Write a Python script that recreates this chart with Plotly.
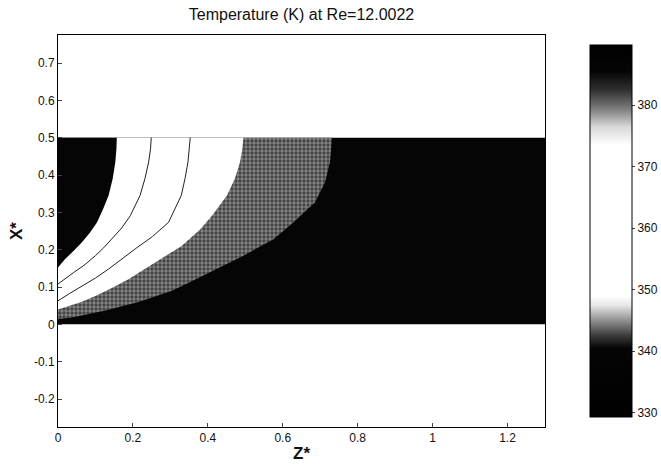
import plotly.graph_objects as go

# ---- data ----
Z_RANGE = [0, 1.3]
X_RANGE = [-0.275, 0.775]
Z_MAX = 1.3
X_MAX = 0.5

# boundary: hot core (dark) -> white band
b1_z = [0.157, 0.156, 0.153, 0.146, 0.135, 0.121, 0.104, 0.085, 0.064, 0.042, 0.019, 0.0]
b1_x = [0.5, 0.47, 0.435, 0.39, 0.345, 0.31, 0.273, 0.245, 0.22, 0.197, 0.175, 0.152]
# isotherm lines inside the white band
ca_z = [0.249, 0.247, 0.242, 0.232, 0.219, 0.193, 0.170, 0.144, 0.122, 0.10, 0.072, 0.042, 0.020, 0.0]
ca_x = [0.5, 0.47, 0.435, 0.39, 0.345, 0.291, 0.258, 0.228, 0.205, 0.184, 0.16, 0.139, 0.122, 0.108]
cb_z = [0.353, 0.351, 0.347, 0.339, 0.329, 0.295, 0.252, 0.206, 0.170, 0.135, 0.100, 0.064, 0.030, 0.0]
cb_x = [0.5, 0.47, 0.435, 0.39, 0.345, 0.273, 0.235, 0.202, 0.174, 0.148, 0.124, 0.103, 0.082, 0.063]
# boundary: white band -> gray band
b2_z = [0.495, 0.492, 0.486, 0.472, 0.451, 0.411, 0.38, 0.33, 0.259, 0.188, 0.145, 0.10, 0.062, 0.028, 0.0]
b2_x = [0.5, 0.47, 0.435, 0.39, 0.345, 0.291, 0.255, 0.21, 0.166, 0.121, 0.098, 0.076, 0.06, 0.049, 0.04]
# boundary: gray band -> cold region
b3_z = [0.731, 0.729, 0.726, 0.713, 0.686, 0.628, 0.575, 0.495, 0.406, 0.35, 0.304, 0.215, 0.126, 0.037, 0.0]
b3_x = [0.5, 0.47, 0.435, 0.381, 0.327, 0.273, 0.228, 0.184, 0.139, 0.112, 0.09, 0.06, 0.037, 0.018, 0.014]

T_MIN, T_MAX = 329.3, 389.8
cbar_ticks = [330, 340, 350, 360, 370, 380]

FONT = "Liberation Sans, Arial, sans-serif"


def region(bz, bx):
    # region left of a boundary curve, inside the channel
    zs = [0.0] + bz + [0.0]
    xs = [X_MAX] + bx + [X_MAX]
    return zs, xs


fig = go.Figure()

# whole channel: cold (dark)
fig.add_trace(go.Scatter(x=[0, Z_MAX, Z_MAX, 0, 0], y=[0, 0, X_MAX, X_MAX, 0],
                         fill="toself", fillcolor="#050505", mode="lines",
                         line=dict(width=0), hoverinfo="skip", showlegend=False))
zs, xs = region(b3_z, b3_x)
fig.add_trace(go.Scatter(x=zs, y=xs, fill="toself", fillcolor="#555555", mode="lines",
                         line=dict(width=0), hoverinfo="skip", showlegend=False,
                         fillpattern=dict(shape=".", fgcolor="#000000", bgcolor="#888888",
                                          size=4, solidity=0.55)))
zs, xs = region(b2_z, b2_x)
fig.add_trace(go.Scatter(x=zs, y=xs, fill="toself", fillcolor="#ffffff", mode="lines",
                         line=dict(width=0), hoverinfo="skip", showlegend=False))
zs, xs = region(b1_z, b1_x)
fig.add_trace(go.Scatter(x=zs, y=xs, fill="toself", fillcolor="#050505", mode="lines",
                         line=dict(width=0), hoverinfo="skip", showlegend=False))
for cz, cx in [(ca_z, ca_x), (cb_z, cb_x)]:
    fig.add_trace(go.Scatter(x=cz, y=cx, mode="lines", line=dict(color="#222", width=1),
                             hoverinfo="skip", showlegend=False))


# colorbar carrier
def f(t):
    return (t - T_MIN) / (T_MAX - T_MIN)


gray_scale = [
    [0.0, "#000000"],
    [f(340.5), "#050505"],
    [f(342.5), "#3a3a3a"],
    [f(345), "#909090"],
    [f(347.5), "#e8e8e8"],
    [f(349), "#ffffff"],
    [f(373.5), "#ffffff"],
    [f(376.5), "#d8d8d8"],
    [f(379.5), "#7a7a7a"],
    [f(382.5), "#303030"],
    [f(385.5), "#050505"],
    [1.0, "#000000"],
]
fig.add_trace(go.Scatter(
    x=[None, None], y=[None, None], mode="markers", hoverinfo="skip", showlegend=False,
    marker=dict(color=[T_MIN, T_MAX], cmin=T_MIN, cmax=T_MAX, colorscale=gray_scale,
                showscale=True,
                colorbar=dict(x=1.092, xanchor="left", xpad=0, y=0.5, yanchor="middle",
                              len=1.0, lenmode="fraction", thickness=42,
                              outlinewidth=1, outlinecolor="#000",
                              tickvals=cbar_ticks, ticks="outside", ticklen=3,
                              tickfont=dict(family=FONT, size=12, color="#111")))))

fig.update_layout(
    width=661, height=470,
    margin=dict(l=58, r=116, t=35, b=43, autoexpand=False),
    paper_bgcolor="white", plot_bgcolor="white",
    title=dict(text="Temperature (K) at Re=12.0022", x=(58 + 545) / 2 / 661, xanchor="center",
               y=1 - 14 / 470, yanchor="middle",
               font=dict(family=FONT, size=16, color="#111")),
    xaxis=dict(range=Z_RANGE, tickvals=[0, 0.2, 0.4, 0.6, 0.8, 1, 1.2],
               ticktext=["0", "0.2", "0.4", "0.6", "0.8", "1", "1.2"],
               ticks="inside", ticklen=4, showgrid=False, zeroline=False,
               showline=True, linecolor="#000", linewidth=1, mirror=True,
               tickfont=dict(family=FONT, size=12, color="#111"),
               title=dict(text="<b>Z*</b>", standoff=2, font=dict(family=FONT, size=17, color="#111"))),
    yaxis=dict(range=X_RANGE, tickvals=[-0.2, -0.1, 0, 0.1, 0.2, 0.3, 0.4, 0.5, 0.6, 0.7],
               ticktext=["-0.2", "-0.1", "0", "0.1", "0.2", "0.3", "0.4", "0.5", "0.6", "0.7"],
               ticks="inside", ticklen=4, showgrid=False, zeroline=False,
               showline=True, linecolor="#000", linewidth=1, mirror=True,
               tickfont=dict(family=FONT, size=12, color="#111"),
               title=dict(text="<b>X*</b>", standoff=6, font=dict(family=FONT, size=17, color="#111"))),
)

fig.write_html("out.html")
